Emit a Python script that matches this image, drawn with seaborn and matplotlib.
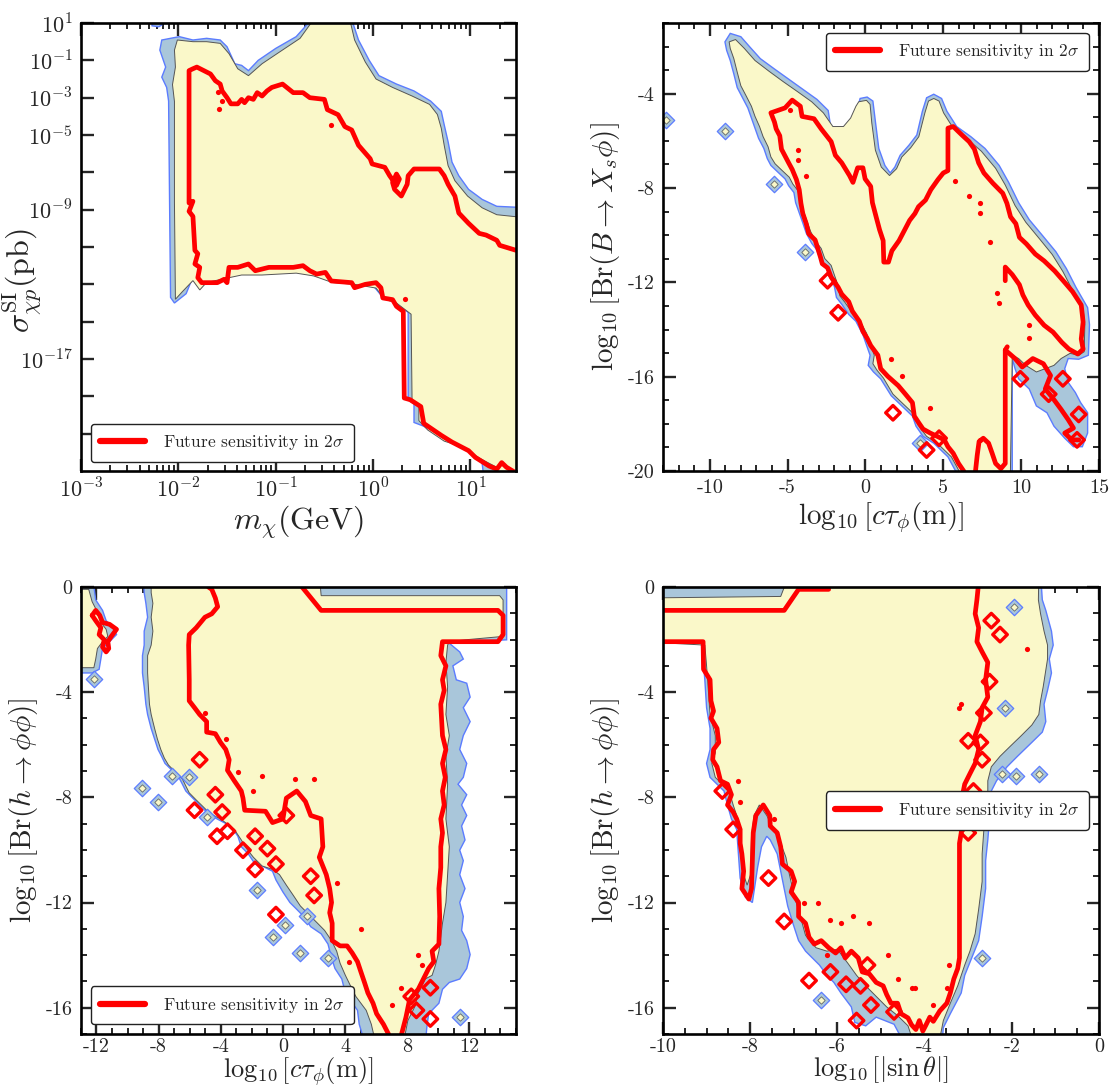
import numpy as np
import matplotlib
matplotlib.use("Agg")
import matplotlib.pyplot as plt
import seaborn as sns
from matplotlib.ticker import FixedLocator, FixedFormatter, MultipleLocator, LogLocator, NullLocator

# ---------------- DATA ----------------
# Panel 1 : log10(m_chi/GeV), log10(sigma/pb)
P1_BLUE = [(-2.19,-0.45),(-2.17,0.09),(-1.99,0.27),(-1.85,0.09),(-1.71,0.18),(-1.57,0.09),(-1.50,-0.27),
           (-1.42,-1.18),(-1.35,-1.27),(-1.28,-1.55),(-1.18,-1.0),(-1.0,-0.36),(-0.79,0.27),(-0.63,1.2),
           (-0.22,1.2),(-0.15,0.09),(-0.04,-1.0),(0.06,-1.82),(0.24,-2.27),(0.42,-2.64),(0.59,-3.18),
           (0.70,-3.73),(0.73,-4.45),(0.77,-5.36),(0.81,-6.45),(0.88,-7.18),(0.98,-7.91),(1.12,-8.45),
           (1.27,-8.82),(1.6,-8.9),(1.6,-23.5),(1.14,-23.5),(1.12,-22.6),(1.05,-22.2),(0.88,-21.5),
           (0.70,-21.2),(0.52,-20.6),(0.42,-20.4),(0.42,-19.4),(0.36,-19.2),(0.36,-14.5),(0.20,-13.9),
           (0.10,-13.7),(-0.01,-13.0),(-0.22,-12.9),(-0.43,-12.8),(-0.65,-12.45),(-0.82,-12.27),
           (-1.14,-12.36),(-1.35,-12.36),(-1.53,-12.55),(-1.71,-12.8),(-1.78,-13.1),(-1.85,-12.6),
           (-1.92,-13.5),(-2.04,-14.0),(-2.08,-13.7),(-2.09,-8.6),(-2.10,-3.18),(-2.12,-2.45),
           (-2.17,-1.9),(-2.13,-1.36)]
P1_YELLOW = [(-2.01,0.09),(-1.85,0.0),(-1.71,0.0),(-1.57,-0.09),(-1.48,-0.64),(-1.39,-1.45),(-1.28,-1.82),
             (-1.14,-1.18),(-0.96,-0.55),(-0.75,0.18),(-0.61,1.2),(-0.24,1.2),(-0.19,0.09),(-0.08,-1.09),
             (0.03,-2.0),(0.20,-2.45),(0.40,-2.91),(0.58,-3.36),(0.66,-3.9),(0.70,-4.64),(0.73,-5.55),
             (0.77,-6.64),(0.84,-7.45),(0.97,-8.27),(1.12,-8.9),(1.27,-9.27),(1.6,-9.45),(1.6,-23.5),
             (1.30,-23.5),(1.27,-22.8),(1.16,-22.5),(1.09,-22.3),(0.91,-21.7),(0.73,-21.4),(0.56,-20.8),
             (0.47,-20.3),(0.47,-19.45),(0.40,-19.2),(0.39,-14.6),(0.24,-14.0),(0.12,-13.8),(0.03,-13.2),
             (-0.19,-13.0),(-0.42,-12.9),(-0.61,-12.55),(-0.79,-12.4),(-1.14,-12.5),(-1.35,-12.5),
             (-1.53,-12.7),(-1.71,-12.9),(-1.78,-13.3),(-1.85,-12.8),(-1.96,-13.4),(-2.03,-13.8),
             (-2.04,-8.6),(-2.04,-3.2),(-2.06,-2.3),(-2.03,-1.36),(-2.04,-0.45)]
P1_BLUE_BLOB = [(-2.27,1.2),(-2.27,0.85),(-2.2,0.8),(-2.17,0.9),(-2.18,1.2)]
P1_RED = [(1.47,-11.18),(1.30,-10.91),(1.27,-10.64),(1.16,-10.36),(1.09,-10.27),(0.98,-9.73),(0.88,-9.18),
          (0.84,-8.27),(0.77,-7.64),(0.73,-7.18),(0.68,-6.82),(0.42,-6.82),(0.36,-7.18),(0.35,-7.64),
          (0.29,-8.27),(0.22,-7.91),(0.20,-7.55),(0.24,-7.09),(0.27,-7.36),(0.24,-7.7),(0.17,-7.18),
          (0.12,-6.73),(-0.01,-6.55),(-0.03,-6.27),(-0.15,-5.55),(-0.22,-4.73),(-0.29,-4.55),(-0.36,-3.91),
          (-0.47,-3.64),(-0.50,-3.09),(-0.65,-3.0),(-0.72,-2.73),(-0.82,-2.73),(-0.93,-2.27),(-1.04,-2.45),
          (-1.09,-2.64),(-1.14,-2.91),(-1.19,-2.73),(-1.23,-3.09),(-1.28,-3.0),(-1.32,-3.27),(-1.35,-3.09),
          (-1.39,-3.33),(-1.46,-3.33),(-1.50,-3.0),(-1.55,-2.64),(-1.57,-2.27),(-1.62,-2.09),(-1.67,-1.73),
          (-1.81,-1.36),(-1.85,-1.45),(-1.89,-1.55),(-1.89,-8.64),(-1.85,-8.55),(-1.89,-9.09),(-1.85,-9.36),
          (-1.83,-11.18),(-1.80,-11.36),(-1.83,-11.91),(-1.78,-12.09),(-1.80,-12.64),(-1.76,-12.91),
          (-1.60,-12.91),(-1.53,-12.73),(-1.50,-12.91),(-1.48,-12.09),(-1.39,-12.09),(-1.28,-11.91),
          (-1.21,-12.27),(-1.07,-12.09),(-0.82,-12.09),(-0.72,-12.0),(-0.65,-12.27),(-0.58,-12.45),
          (-0.49,-12.36),(-0.43,-12.82),(-0.22,-12.91),(-0.19,-13.18),(-0.08,-13.0),(0.03,-12.91),
          (0.08,-13.18),(0.10,-13.73),(0.20,-13.82),(0.24,-14.18),(0.31,-14.45),(0.32,-19.09),
          (0.38,-19.18),(0.49,-19.55),(0.52,-20.45),(0.70,-21.09),(0.81,-21.45),(0.98,-21.91),
          (1.05,-22.27),(1.19,-22.73),(1.27,-22.9),(1.32,-22.55),(1.37,-22.8),(1.45,-23.05)]
P1_RED_DOTS = [(-1.59,-2.67),(-1.55,-3.18),(-1.58,-3.58),(-0.43,-4.49),(0.33,-13.8)]

# Panel 2 : log10(c tau / m), log10 Br(B -> Xs phi)
P2_BLUE = [(-9.02,-1.80),(-8.68,-1.44),(-8.0,-1.58),(-7.43,-2.01),(-6.75,-2.51),(-5.84,-2.95),(-4.93,-3.38),
           (-4.02,-3.81),(-3.11,-4.24),(-2.39,-4.71),(-2.20,-5.53),(-1.41,-5.53),(-0.84,-5.17),(-0.50,-4.60),
           (-0.34,-4.20),(0.11,-4.14),(0.48,-4.31),(0.64,-5.17),(0.86,-6.32),(1.25,-7.04),(1.59,-7.36),
           (1.89,-7.11),(2.23,-6.61),(2.80,-6.18),(3.30,-5.75),(3.66,-4.74),(3.93,-4.17),(4.39,-4.02),
           (4.89,-4.20),(5.23,-4.74),(5.86,-5.39),(6.77,-5.82),(7.68,-6.32),(8.59,-7.04),(9.20,-7.76),
           (9.84,-8.62),(10.52,-9.34),(11.43,-10.06),(12.23,-10.70),(12.91,-11.42),(13.52,-12.21),
           (14.27,-13.07),(14.39,-13.79),(14.32,-15.09),(13.70,-15.26),(13.02,-15.23),(12.80,-15.66),
           (13.02,-16.24),(13.48,-16.67),(13.82,-17.10),(14.27,-17.53),(14.27,-18.39),(13.93,-18.97),
           (13.36,-18.97),(12.80,-18.61),(12.11,-18.10),(11.66,-17.53),(10.98,-17.24),(10.52,-16.52),
           (9.84,-16.09),(9.61,-15.66),(9.43,-15.23),(9.43,-20.5),(6.20,-20.5),(5.30,-19.40),(4.39,-18.82),
           (3.70,-18.53),(3.25,-18.10),(3.02,-17.67),(2.34,-17.24),(1.66,-16.81),(0.98,-16.09),(0.52,-15.80),
           (0.18,-15.52),(0.30,-15.09),(0.07,-14.66),(-0.16,-14.22),(-0.61,-13.65),(-1.07,-13.36),
           (-1.52,-12.93),(-1.86,-12.64),(-1.98,-12.21),(-2.20,-11.78),(-2.43,-11.35),(-2.89,-11.06),
           (-3.11,-10.63),(-3.45,-10.34),(-3.80,-9.91),(-4.02,-9.48),(-4.25,-9.05),(-4.48,-8.62),
           (-4.59,-8.19),(-4.93,-7.90),(-5.16,-7.61),(-5.61,-7.33),(-6.07,-7.04),(-6.30,-6.75),
           (-6.52,-6.32),(-6.86,-5.89),(-7.09,-5.46),(-7.32,-5.03),(-7.55,-4.60),(-7.89,-4.17),
           (-8.23,-3.74),(-8.45,-3.16),(-8.68,-2.59),(-8.91,-2.16)]
P2_YELLOW = [(-8.75,-1.80),(-8.34,-1.70),(-7.77,-2.08),(-7.09,-2.59),(-6.18,-3.05),(-5.27,-3.49),(-4.36,-3.91),
             (-3.45,-4.34),(-2.70,-4.81),(-2.09,-5.39),(-1.41,-5.39),(-0.95,-5.03),(-0.61,-4.53),(-0.43,-4.34),
             (0.07,-4.28),(0.30,-4.45),(0.41,-5.24),(0.64,-6.39),(1.02,-7.11),(1.55,-7.47),(2.0,-7.18),
             (2.34,-6.68),(2.91,-6.29),(3.43,-5.82),(3.82,-4.81),(4.05,-4.31),(4.39,-4.20),(4.73,-4.31),
             (5.02,-4.81),(5.64,-5.46),(6.55,-5.92),(7.45,-6.44),(8.36,-7.16),(8.98,-7.87),(9.61,-8.74),
             (10.30,-9.45),(11.20,-10.17),(12.0,-10.82),(12.68,-11.54),(13.30,-12.33),(13.98,-13.15),
             (14.09,-13.79),(14.05,-14.94),(13.70,-15.09),(13.14,-15.01),(12.57,-15.23),(12.11,-15.52),
             (10.98,-15.80),(10.30,-15.52),(9.84,-15.23),(9.43,-15.09),(9.30,-20.5),(6.43,-20.5),
             (5.52,-19.40),(4.61,-18.82),(3.93,-18.53),(3.36,-18.03),(3.14,-17.60),(2.45,-17.17),
             (1.77,-16.74),(1.16,-16.06),(0.75,-15.73),(0.48,-15.45),(0.57,-15.09),(0.30,-14.58),
             (0.07,-14.15),(-0.34,-13.65),(-0.84,-13.29),(-1.30,-12.86),(-1.64,-12.57),(-1.75,-12.14),
             (-1.98,-11.71),(-2.20,-11.28),(-2.61,-10.99),(-2.84,-10.56),(-3.18,-10.27),(-3.52,-9.84),
             (-3.75,-9.41),(-3.98,-8.98),(-4.20,-8.55),(-4.32,-8.12),(-4.66,-7.83),(-4.89,-7.54),
             (-5.34,-7.26),(-5.80,-6.97),(-6.07,-6.68),(-6.25,-6.25),(-6.57,-5.82),(-6.80,-5.39),
             (-7.09,-4.96),(-7.32,-4.53),(-7.66,-4.09),(-8.0,-3.66),(-8.23,-3.09),(-8.45,-2.51),(-8.68,-2.08)]
P2_RED = [(6.32,-20.01),(5.98,-19.68),(5.64,-19.25),(5.30,-18.97),(5.07,-18.68),(4.61,-18.53),(4.16,-18.39),
          (3.70,-18.22),(3.43,-17.96),(3.14,-17.67),(3.02,-17.10),(2.57,-16.74),(2.11,-16.38),(1.43,-15.98),
          (0.98,-15.66),(0.80,-15.09),(0.34,-14.68),(0.11,-14.37),(-0.16,-14.08),(-0.39,-13.65),
          (-0.84,-13.22),(-1.07,-12.82),(-1.52,-12.50),(-1.75,-12.21),(-2.20,-11.78),(-2.43,-11.38),
          (-2.77,-11.21),(-2.89,-10.92),(-3.23,-10.20),(-3.64,-9.94),(-3.80,-9.51),(-4.02,-9.08),
          (-4.14,-8.65),(-4.25,-8.07),(-4.43,-7.64),(-4.70,-7.21),(-4.93,-6.93),(-5.16,-6.64),
          (-5.39,-6.35),(-5.50,-5.78),(-5.73,-5.49),(-5.84,-5.20),(-6.07,-4.81),(-5.16,-4.60),
          (-4.70,-4.27),(-4.18,-4.53),(-4.07,-4.96),(-3.30,-5.06),(-2.84,-5.49),(-2.20,-6.03),
          (-1.93,-6.61),(-1.52,-6.93),(-1.02,-7.47),(-0.80,-7.76),(-0.50,-7.14),(-0.16,-7.14),
          (-0.02,-7.61),(0.34,-7.93),(0.45,-8.62),(0.68,-9.20),(0.91,-9.77),(1.14,-10.23),(1.18,-11.14),
          (1.48,-11.14),(1.70,-10.66),(2.16,-10.23),(2.50,-9.80),(2.84,-9.37),(3.18,-9.08),(3.41,-8.79),
          (3.86,-8.51),(4.20,-8.07),(4.66,-7.64),(5.0,-7.36),(5.30,-7.26),(5.30,-5.46),(5.64,-5.39),
          (6.20,-5.75),(6.66,-6.03),(7.0,-6.35),(7.27,-6.93),(7.61,-7.36),(8.18,-7.79),(8.82,-8.22),
          (9.09,-8.65),(9.32,-9.22),(9.66,-9.51),(9.89,-10.09),(10.34,-10.37),(10.91,-10.80),
          (11.48,-11.09),(12.16,-11.52),(12.73,-11.95),(13.30,-12.39),(13.86,-12.96),(13.98,-13.68),
          (13.86,-14.40),(13.98,-14.83),(13.64,-15.04),(13.07,-14.83),(12.61,-14.54),(12.05,-14.11),
          (11.48,-13.82),(10.91,-13.39),(10.45,-12.96),(10.11,-12.53),(9.89,-12.10),(9.43,-11.67),
          (8.98,-11.35),(8.98,-11.93)]
P2_RED_B = [(9.11,-14.73),(8.98,-14.87),(8.98,-19.68),(8.70,-19.90),(8.36,-19.68),(8.14,-19.25),
            (7.91,-18.82),(7.57,-18.61),(7.30,-18.75),(7.18,-19.33),(7.07,-20.0)]
P2_RED_D = [(8.98,-14.87),(9.61,-15.23),(10.07,-15.59),(10.75,-15.23),(11.43,-15.45),(11.89,-15.95),
            (11.55,-16.52),(12.0,-16.88),(12.57,-17.39),(13.02,-17.82),(13.36,-18.18),(12.80,-18.39),
            (13.25,-18.68),(13.70,-18.68)]
P2_RED_DIAMONDS = [(-2.43,-11.93),(-1.75,-13.29),(1.77,-17.53),(3.93,-19.11),(4.73,-18.61),(9.95,-16.09),
                   (12.68,-16.09),(13.70,-17.60),(13.59,-18.68),(11.77,-16.74)]
P2_RED_DOTS = [(-4.82,-4.67),(-4.36,-6.39),(-4.30,-6.82),(-3.80,-7.47),(5.75,-7.69),(6.66,-8.33),(7.34,-8.62),
               (7.34,-9.05),(8.02,-10.27),(8.48,-12.43),(8.59,-12.86),(10.52,-14.37),(10.52,-13.79),
               (1.66,-15.23),(2.34,-15.95),(4.16,-17.31),(7.34,-18.68)]
P2_BLUE_ISLANDS = [(-9.02,-5.57),(-12.8,-5.10),(-5.84,-7.83),(-3.89,-10.70),(3.48,-18.82)]

# Panel 3 : log10(c tau / m), log10 Br(h -> phi phi)
P3_BLUE = [(-8.97,0.5),(14.40,0.5),(14.40,-2.01),(11.83,-2.08),(10.71,-2.14),(11.38,-2.47),(11.61,-2.74),
           (10.94,-3.00),(11.16,-3.53),(11.83,-3.66),(12.05,-4.19),(11.61,-4.59),(12.05,-5.12),(11.61,-5.65),
           (11.38,-6.18),(11.83,-6.71),(11.61,-7.24),(11.27,-7.50),(11.83,-7.90),(11.50,-8.29),(11.83,-8.69),
           (11.50,-9.09),(11.72,-9.62),(11.38,-10.01),(11.61,-10.41),(11.38,-10.94),(11.72,-11.47),
           (11.38,-12.00),(11.61,-12.53),(11.50,-13.06),(11.83,-13.45),(12.05,-13.98),(11.83,-14.51),
           (11.38,-14.91),(10.71,-15.04),(10.27,-15.30),(10.04,-15.83),(9.38,-16.23),(9.26,-16.76),
           (9.15,-17.5),(5.36,-17.5),(4.91,-16.63),(4.80,-16.10),(4.02,-15.44),(3.79,-14.91),(3.35,-14.51),
           (3.13,-14.11),(2.90,-13.58),(2.46,-13.19),(1.79,-12.92),(1.34,-12.53),(0.89,-12.26),(0.45,-12.00),
           (0.0,-11.60),(-0.45,-11.14),(-0.67,-10.81),(-1.34,-10.61),(-1.79,-10.54),(-2.23,-10.15),
           (-2.68,-9.88),(-2.90,-9.48),(-3.35,-9.09),(-3.79,-8.96),(-4.24,-8.82),(-4.91,-8.56),(-5.36,-8.29),
           (-5.80,-8.03),(-6.25,-7.76),(-6.47,-7.50),(-6.70,-7.24),(-7.14,-6.97),(-7.59,-6.71),(-7.81,-6.44),
           (-8.04,-6.18),(-8.26,-5.78),(-8.48,-5.38),(-8.71,-4.85),(-8.82,-4.46),(-8.93,-3.80),(-9.04,-3.27),
           (-9.04,-2.61),(-8.93,-2.21),(-8.93,-1.68),(-8.71,-1.15),(-8.82,-0.62),(-8.93,-0.22)]
P3_YELLOW = [(-8.48,0.5),(2.34,0.5),(2.46,-0.33),(13.95,-0.33),(14.17,-0.49),(14.17,-1.88),(11.72,-2.01),
             (10.71,-2.08),(10.60,-2.21),(10.49,-2.87),(10.60,-3.80),(10.49,-4.85),(10.71,-5.65),(10.49,-6.44),
             (10.60,-7.50),(10.49,-8.82),(10.71,-9.88),(10.60,-10.94),(10.49,-12.00),(10.27,-12.79),
             (10.04,-13.85),(9.82,-14.38),(9.60,-14.77),(9.15,-14.91),(8.71,-15.44),(8.48,-15.97),
             (8.04,-16.49),(7.70,-17.5),(6.03,-17.5),(5.69,-16.63),(5.36,-16.10),(4.69,-15.57),(4.35,-15.17),
             (4.02,-14.77),(3.68,-14.31),(3.46,-13.85),(3.13,-13.45),(2.68,-13.06),(2.23,-12.79),(1.79,-12.53),
             (1.12,-12.13),(0.67,-11.73),(0.22,-11.34),(-0.22,-10.94),(-0.67,-10.74),(-1.34,-10.61),
             (-1.90,-10.28),(-2.34,-9.95),(-2.68,-9.62),(-3.13,-9.22),(-3.57,-9.02),(-4.02,-8.82),
             (-4.69,-8.62),(-5.13,-8.36),(-5.58,-8.10),(-6.03,-7.83),(-6.25,-7.57),(-6.47,-7.30),
             (-6.92,-7.04),(-7.37,-6.77),(-7.63,-6.51),(-7.86,-6.18),(-8.08,-5.78),(-8.26,-5.38),
             (-8.48,-4.85),(-8.59,-4.46),(-8.66,-3.80),(-8.71,-3.27),(-8.71,-2.61),(-8.48,-2.21),
             (-8.37,-1.68),(-8.48,-1.15),(-8.37,-0.62),(-8.48,-0.22)]
P3_BLUE_CORNER = [(-13.5,0.5),(-12.28,0.5),(-12.05,-0.49),(-11.61,-0.89),(-11.38,-1.28),(-10.94,-1.55),
                  (-10.71,-1.81),(-11.16,-2.08),(-11.61,-2.34),(-11.72,-2.74),(-11.83,-3.13),(-12.28,-3.27),
                  (-13.5,-3.27)]
P3_YELLOW_CORNER = [(-13.5,-0.09),(-12.5,-0.09),(-12.28,-0.56),(-11.94,-0.95),(-11.72,-1.35),(-11.38,-1.61),
                    (-11.27,-1.88),(-11.61,-2.08),(-11.94,-2.34),(-12.05,-2.74),(-12.17,-3.07),(-13.5,-3.07)]
P3_RED_CORNER = [(-12.28,-1.08),(-12.05,-0.89),(-11.79,-1.08),(-11.61,-1.35),(-11.16,-1.42),(-10.71,-1.61),
                 (-11.05,-1.88),(-11.27,-2.08),(-11.21,-2.34),(-11.38,-2.47),(-11.61,-2.28),(-11.50,-2.01),
                 (-11.83,-1.81),(-11.72,-1.55),(-12.05,-1.28),(-12.28,-1.08)]
P3_RED_LEFT = [(-4.80,0.0),(-4.58,-0.09),(-4.35,-0.42),(-4.20,-0.75),(-4.58,-1.02),(-5.02,-1.15),(-5.58,-1.55),
               (-6.03,-1.81),(-6.07,-2.21),(-6.03,-3.53),(-6.03,-4.33),(-5.69,-4.59),(-5.36,-4.85),(-4.91,-5.12),
               (-4.91,-5.52),(-4.35,-5.58),(-4.02,-5.91),(-3.68,-6.18),(-3.46,-6.57),(-3.57,-6.97),(-3.13,-7.37),
               (-2.68,-7.76),(-2.57,-8.03),(-2.46,-8.49),(-1.12,-8.53),(-0.67,-8.96),(0.0,-8.82),(0.22,-8.03),
               (0.89,-7.76),(1.45,-8.16),(1.79,-8.69),(2.46,-8.82),(2.57,-9.88),(2.34,-10.28),(2.79,-10.94),
               (3.01,-11.47),(3.13,-12.00),(3.01,-12.39),(3.17,-12.79),(3.17,-13.45),(3.68,-13.65),
               (4.13,-13.65),(4.46,-13.92),(4.80,-14.25),(5.02,-14.64),(5.25,-15.04),(5.47,-15.44),
               (5.80,-15.83),(6.03,-16.23),(6.47,-16.63),(6.81,-17.02)]
P3_RED_RIGHT = [(1.23,0.0),(2.46,-0.89),(13.84,-0.89),(14.17,-1.08),(14.17,-1.81),(13.84,-2.08),(10.27,-2.08),
                (10.16,-2.61),(10.49,-3.00),(10.27,-3.53),(10.38,-3.93),(10.16,-4.46),(10.22,-5.12),
                (10.27,-5.65),(10.49,-6.18),(10.27,-6.71),(10.45,-7.24),(10.27,-7.76),(10.38,-8.29),
                (10.16,-8.82),(10.27,-9.35),(10.16,-9.88),(10.16,-10.67),(10.04,-11.47),(10.09,-12.53),
                (10.04,-13.58),(9.60,-13.85),(9.71,-14.25),(9.38,-14.51),(9.04,-14.91),(8.71,-15.30),
                (8.15,-15.70),(7.92,-16.36),(7.63,-17.02)]
P3_RED_DIAMONDS = [(-5.36,-6.57),(-4.35,-7.90),(-3.91,-8.56),(-5.69,-8.49),(-4.24,-9.48),(-3.57,-9.29),
                   (-2.57,-10.01),(-1.79,-10.74),(-0.45,-10.54),(-1.0,-9.95),(1.79,-11.0),(2.01,-11.73),
                   (-0.45,-12.46),(9.49,-15.24),(9.49,-16.43),(8.59,-16.10),(8.26,-15.57),(0.22,-8.69),
                   (-1.79,-9.48)]
P3_RED_DOTS = [(-5.02,-4.81),(-3.68,-5.78),(-2.90,-7.04),(-1.34,-7.17),(0.78,-7.30),(2.01,-7.30),(-1.90,-7.76),
               (3.46,-11.27),(4.24,-14.25),(5.02,-12.99),(7.59,-15.24),(7.03,-15.90),(8.93,-14.38),(8.71,-13.98)]
P3_BLUE_ISLANDS = [(-9.04,-7.63),(-8.04,-8.16),(-7.14,-7.17),(-6.03,-7.24),(-4.91,-8.76),(-1.67,-11.53),
                   (0.11,-12.86),(1.56,-12.53),(-0.67,-13.32),(1.12,-13.92),(2.90,-14.11),(-12.17,-3.51),
                   (11.38,-16.36)]

# Panel 4 : log10|sin theta|, log10 Br(h -> phi phi)
P4_BLUE = [(-10.5,0.5),(-1.34,0.5),(-1.30,-0.49),(-1.22,-0.89),(-1.09,-1.68),(-1.05,-2.21),(-1.14,-2.74),
           (-1.09,-3.27),(-1.18,-3.93),(-1.26,-4.46),(-1.22,-5.12),(-1.30,-5.52),(-1.54,-5.91),(-1.87,-6.44),
           (-2.11,-6.84),(-2.35,-7.37),(-2.47,-7.76),(-2.43,-8.29),(-2.51,-8.82),(-2.55,-9.62),(-2.60,-10.41),
           (-2.60,-11.47),(-2.68,-12.53),(-2.76,-13.45),(-2.92,-14.11),(-3.08,-14.77),(-3.16,-15.44),
           (-3.41,-16.23),(-3.57,-16.76),(-3.61,-17.5),(-4.42,-17.5),(-4.70,-16.63),(-5.11,-16.36),
           (-5.35,-16.69),(-5.60,-16.56),(-5.68,-15.97),(-5.92,-15.44),(-6.08,-15.04),(-6.24,-14.77),
           (-6.41,-14.38),(-6.73,-13.85),(-6.89,-13.45),(-7.02,-12.79),(-7.14,-12.13),(-7.22,-11.47),
           (-7.30,-10.81),(-7.38,-10.15),(-7.54,-9.62),(-7.62,-9.48),(-7.74,-9.88),(-7.83,-10.67),
           (-7.95,-12.00),(-8.11,-11.80),(-8.23,-11.07),(-8.27,-10.15),(-8.31,-9.22),(-8.43,-8.82),
           (-8.52,-8.29),(-8.60,-7.76),(-8.76,-7.50),(-8.92,-7.24),(-9.0,-6.71),(-8.92,-6.18),(-8.92,-5.38),
           (-9.0,-4.59),(-9.04,-3.53),(-9.08,-2.74),(-9.12,-2.14),(-10.5,-2.14)]
P4_YELLOW = [(-10.5,-0.42),(-7.30,-0.36),(-7.10,0.5),(-1.38,0.5),(-1.39,-0.49),(-1.34,-1.02),(-1.26,-1.68),
             (-1.18,-2.21),(-1.18,-2.74),(-1.23,-3.27),(-1.28,-3.80),(-1.34,-4.33),(-1.38,-4.85),(-1.54,-5.25),
             (-1.78,-5.65),(-2.03,-6.05),(-2.27,-6.44),(-2.47,-6.84),(-2.55,-7.37),(-2.55,-8.03),(-2.60,-8.56),
             (-2.64,-9.22),(-2.68,-10.15),(-2.68,-11.20),(-2.76,-12.26),(-2.84,-13.19),(-2.96,-13.85),
             (-3.08,-14.38),(-3.24,-15.17),(-3.41,-15.83),(-3.57,-16.49),(-3.69,-17.5),(-4.22,-17.5),
             (-4.38,-16.69),(-4.62,-16.30),(-4.87,-15.97),(-5.11,-15.57),(-5.35,-15.17),(-5.56,-14.77),
             (-5.76,-14.31),(-6.0,-13.78),(-6.24,-13.85),(-6.49,-13.72),(-6.73,-13.25),(-6.85,-12.53),
             (-6.98,-11.80),(-7.10,-10.94),(-7.18,-10.28),(-7.30,-9.75),(-7.46,-9.22),(-7.62,-8.69),
             (-7.79,-8.29),(-7.91,-8.69),(-7.97,-9.48),(-7.99,-10.94),(-8.07,-11.34),(-8.15,-10.94),
             (-8.19,-10.15),(-8.23,-9.35),(-8.31,-8.69),(-8.39,-8.29),(-8.48,-7.76),(-8.64,-7.50),
             (-8.80,-7.24),(-8.88,-6.71),(-8.80,-6.31),(-8.80,-5.65),(-8.92,-4.85),(-8.96,-3.93),
             (-9.0,-3.00),(-9.04,-2.21),(-10.5,-2.08)]
P4_RED_TOP = [(-10.5,-0.89),(-7.22,-0.89),(-6.89,-0.09),(-6.20,-0.09)]
P4_RED = [(-10.5,-2.08),(-9.08,-2.08),(-9.07,-3.13),(-8.92,-3.53),(-8.90,-4.33),(-8.84,-4.72),(-8.90,-4.99),
          (-8.76,-5.38),(-8.72,-5.91),(-8.84,-6.18),(-8.86,-6.57),(-8.76,-6.84),(-8.68,-7.37),(-8.52,-7.50),
          (-8.43,-7.90),(-8.52,-8.29),(-8.39,-8.56),(-8.31,-8.82),(-8.23,-9.22),(-8.23,-9.75),(-8.19,-10.15),
          (-8.15,-10.81),(-8.19,-11.47),(-8.03,-11.87),(-7.97,-11.47),(-7.95,-10.41),(-7.93,-9.35),
          (-7.87,-8.69),(-7.70,-8.29),(-7.55,-8.69),(-7.54,-9.09),(-7.38,-9.35),(-7.30,-9.88),(-7.26,-10.54),
          (-7.06,-10.81),(-6.98,-11.20),(-7.06,-11.60),(-6.89,-12.00),(-6.89,-12.53),(-6.73,-12.79),
          (-6.65,-13.32),(-6.53,-13.58),(-6.37,-13.45),(-6.20,-13.72),(-6.04,-13.92),(-5.92,-13.72),
          (-5.82,-14.11),(-5.68,-13.85),(-5.52,-14.11),(-5.43,-14.64),(-5.27,-14.71),(-5.11,-15.04),
          (-4.95,-15.17),(-4.87,-15.50),(-4.77,-15.83),(-4.62,-15.83),(-4.54,-16.23),(-4.38,-16.39),
          (-4.30,-16.65),(-4.20,-16.83),(-4.12,-16.49),(-4.04,-16.89),(-3.96,-16.63),(-3.88,-16.36),
          (-3.80,-16.52),(-3.65,-16.12),(-3.49,-15.83),(-3.41,-15.44),(-3.33,-14.91),(-3.24,-14.51),
          (-3.20,-14.11),(-3.20,-9.75),(-3.16,-9.35),(-3.12,-8.69),(-3.16,-8.16),(-3.08,-7.50),(-2.96,-7.10),
          (-2.84,-6.71),(-2.76,-6.18),(-2.84,-5.65),(-2.72,-5.12),(-2.68,-4.59),(-2.55,-4.19),(-2.60,-3.53),
          (-2.55,-2.87),(-2.68,-2.47),(-2.80,-2.08),(-2.76,-1.55),(-2.84,-1.02),(-2.80,-0.49),(-2.77,0.0)]
P4_RED_DIAMONDS = [(-2.47,-1.28),(-2.27,-1.81),(-2.51,-3.60),(-2.64,-4.79),(-3.0,-5.85),(-2.72,-5.91),
                   (-2.68,-6.57),(-2.88,-7.76),(-3.0,-9.35),(-8.64,-7.76),(-8.39,-9.22),(-7.58,-11.07),
                   (-7.22,-12.72),(-6.65,-14.97),(-6.16,-14.64),(-5.80,-15.11),(-5.47,-15.17),(-5.23,-15.90),
                   (-5.56,-16.49),(-4.70,-16.16),(-5.31,-14.38)]
P4_RED_DOTS = [(-1.66,-2.34),(-3.20,-4.59),(-8.27,-7.37),(-8.23,-8.16),(-6.77,-12.0),(-6.45,-12.0),(-6.16,-12.66),
               (-5.92,-12.79),(-5.64,-12.53),(-5.27,-12.79),(-4.83,-13.98),(-4.62,-14.91),(-4.22,-15.24),
               (-3.81,-15.90),(-3.45,-14.38),(-3.49,-15.24),(-4.30,-15.24),(-6.24,-13.98),(-7.46,-8.82),
               (-3.16,-4.46)]
P4_BLUE_ISLANDS = [(-1.91,-7.17),(-2.23,-7.10),(-1.38,-7.10),(-2.68,-14.11),(-6.37,-15.70),(-1.95,-0.75),
                   (-2.15,-4.59)]

LEGEND_TEXT = r"Future sensitivity in $2\sigma$"

# ---------------- STYLE ----------------
sns.set_style("ticks")
plt.rcParams.update({
    "font.family": ["cmr10", "DejaVu Serif"],
    "mathtext.fontset": "cm",
    "axes.unicode_minus": False,
    "axes.linewidth": 1.9,
    "axes.edgecolor": "black",
})
BLUE_FACE = "#a9c6da"
BLUE_EDGE = "#5b7cff"
YEL_FACE = "#faf8c9"
YEL_EDGE = "#555555"
RED = "#ff0000"

fig = plt.figure(figsize=(11.12, 10.86), dpi=100)
axes = [fig.add_axes([0.0728, 0.5663, 0.3912, 0.4125]),
        fig.add_axes([0.5962, 0.5663, 0.3921, 0.4125]),
        fig.add_axes([0.0728, 0.0479, 0.3912, 0.4116]),
        fig.add_axes([0.5962, 0.0479, 0.3921, 0.4116])]


def xy(pts, log=False):
    a = np.array(pts, dtype=float)
    x, y = a[:, 0], a[:, 1]
    if log:
        return 10.0 ** x, 10.0 ** y
    return x, y


def region(ax, outer, inner, log=False):
    x, y = xy(outer, log)
    ax.fill(x, y, facecolor=BLUE_FACE, edgecolor=BLUE_EDGE, linewidth=1.0, zorder=1)
    x, y = xy(inner, log)
    ax.fill(x, y, facecolor=YEL_FACE, edgecolor=YEL_EDGE, linewidth=0.7, zorder=2)


def red_line(ax, pts, log=False, label=None):
    x, y = xy(pts, log)
    sns.lineplot(x=x, y=y, sort=False, estimator=None, color=RED, linewidth=3.4,
                 ax=ax, label=label, legend=False, zorder=5)


def red_marks(ax, diamonds, dots, log=False):
    if diamonds:
        x, y = xy(diamonds, log)
        ax.scatter(x, y, marker="D", s=55, facecolors="none", edgecolors=RED, linewidths=2.4, zorder=5)
    if dots:
        x, y = xy(dots, log)
        sns.scatterplot(x=x, y=y, color=RED, s=14, linewidth=0, ax=ax, zorder=5)


def islands(ax, pts, log=False):
    x, y = xy(pts, log)
    ax.scatter(x, y, marker="D", s=70, facecolors=BLUE_FACE, edgecolors=BLUE_EDGE, linewidths=0.9, zorder=3)
    ax.scatter(x, y, marker="D", s=14, facecolors=YEL_FACE, edgecolors=YEL_EDGE, linewidths=0.5, zorder=3)


def legend(ax, **kw):
    h = [plt.Line2D([0], [0], color=RED, lw=4.5)]
    lg = ax.legend(h, [LEGEND_TEXT], fontsize=12.5, handlelength=2.6, handletextpad=1.0,
                   borderpad=0.55, fancybox=True, framealpha=1, edgecolor="#222222", **kw)
    lg.get_frame().set_linewidth(1.0)
    lg.set_zorder(10)


def style_ticks(ax):
    ax.tick_params(which="both", direction="in", top=True, right=True, labelsize=14.5, pad=6)
    ax.tick_params(which="major", length=9, width=1.7)
    ax.tick_params(which="minor", length=4.5, width=1.4)


LABEL_FS = 21

# ---- Panel 1
ax = axes[0]
region(ax, P1_BLUE, P1_YELLOW, log=True)
x, y = xy(P1_BLUE_BLOB, True)
ax.fill(x, y, facecolor=BLUE_FACE, edgecolor=BLUE_EDGE, linewidth=1.0, zorder=1)
red_line(ax, P1_RED, log=True)
red_marks(ax, None, P1_RED_DOTS, log=True)
ax.set_xscale("log")
ax.set_yscale("log")
ax.set_xlim(1e-3, 10 ** 1.467)
ax.set_ylim(1e-23, 1e1)
ax.xaxis.set_major_locator(FixedLocator([1e-3, 1e-2, 1e-1, 1e0, 1e1]))
ax.xaxis.set_major_formatter(FixedFormatter([r"$10^{-3}$", r"$10^{-2}$", r"$10^{-1}$", r"$10^{0}$", r"$10^{1}$"]))
ax.xaxis.set_minor_locator(LogLocator(base=10, subs=np.arange(2, 10)))
yexp = list(range(1, -23, -2))
shown = {1: r"$10^{1}$", -1: r"$10^{-1}$", -3: r"$10^{-3}$", -5: r"$10^{-5}$", -9: r"$10^{-9}$", -17: r"$10^{-17}$"}
ax.yaxis.set_major_locator(FixedLocator([10.0 ** e for e in yexp]))
ax.yaxis.set_major_formatter(FixedFormatter([shown.get(e, "") for e in yexp]))
ax.yaxis.set_minor_locator(NullLocator())
style_ticks(ax)
ax.tick_params(axis="both", labelsize=16)
ax.tick_params(axis="x", pad=5)
ax.set_xlabel(r"$m_\chi(\mathrm{GeV})$", fontsize=23, labelpad=1)
ax.set_ylabel(r"$\sigma^{\mathrm{SI}}_{\chi p}(\mathrm{pb})$", fontsize=23)
ax.yaxis.set_label_coords(-0.085, 0.425)
legend(ax, loc="lower left", bbox_to_anchor=(0.022, 0.02), borderaxespad=0)

# ---- Panel 2
ax = axes[1]
region(ax, P2_BLUE, P2_YELLOW)
islands(ax, P2_BLUE_ISLANDS)
red_line(ax, P2_RED)
red_line(ax, P2_RED_B)
red_line(ax, P2_RED_D)
red_marks(ax, P2_RED_DIAMONDS, P2_RED_DOTS)
ax.set_xlim(-13, 15)
ax.set_ylim(-20, -1)
ax.xaxis.set_major_locator(FixedLocator([-10, -5, 0, 5, 10, 15]))
ax.xaxis.set_major_formatter(FixedFormatter(["-10", "-5", "0", "5", "10", "15"]))
ax.xaxis.set_minor_locator(MultipleLocator(1))
ax.yaxis.set_major_locator(FixedLocator([-4, -8, -12, -16, -20]))
ax.yaxis.set_major_formatter(FixedFormatter(["-4", "-8", "-12", "-16", "-20"]))
ax.yaxis.set_minor_locator(MultipleLocator(1))
style_ticks(ax)
ax.set_xlabel(r"$\log_{10}[c\tau_\phi(\mathrm{m})]$", fontsize=LABEL_FS, labelpad=2)
ax.set_ylabel(r"$\log_{10}[\mathrm{Br}(B\rightarrow X_s\phi)]$", fontsize=LABEL_FS, labelpad=4)
legend(ax, loc="upper right", bbox_to_anchor=(0.976, 0.978), borderaxespad=0)

# ---- Panel 3
ax = axes[2]
region(ax, P3_BLUE, P3_YELLOW)
region(ax, P3_BLUE_CORNER, P3_YELLOW_CORNER)
islands(ax, P3_BLUE_ISLANDS)
red_line(ax, P3_RED_LEFT)
red_line(ax, P3_RED_RIGHT)
red_line(ax, P3_RED_CORNER)
red_marks(ax, P3_RED_DIAMONDS, P3_RED_DOTS)
ax.set_xlim(-13, 15)
ax.set_ylim(-17, 0)
ax.xaxis.set_major_locator(FixedLocator([-12, -8, -4, 0, 4, 8, 12]))
ax.xaxis.set_major_formatter(FixedFormatter(["-12", "-8", "-4", "0", "4", "8", "12"]))
ax.xaxis.set_minor_locator(MultipleLocator(1))
ax.yaxis.set_major_locator(FixedLocator([0, -4, -8, -12, -16]))
ax.yaxis.set_major_formatter(FixedFormatter(["0", "-4", "-8", "-12", "-16"]))
ax.yaxis.set_minor_locator(MultipleLocator(1))
style_ticks(ax)
ax.tick_params(axis="x", pad=3)
ax.set_xlabel(r"$\log_{10}[c\tau_\phi(\mathrm{m})]$", fontsize=19, labelpad=-1)
ax.set_ylabel(r"$\log_{10}[\mathrm{Br}(h\rightarrow \phi\phi)]$", fontsize=LABEL_FS, labelpad=4)
legend(ax, loc="lower left", bbox_to_anchor=(0.022, 0.022), borderaxespad=0)

# ---- Panel 4
ax = axes[3]
region(ax, P4_BLUE, P4_YELLOW)
islands(ax, P4_BLUE_ISLANDS)
red_line(ax, P4_RED_TOP)
red_line(ax, P4_RED)
red_marks(ax, P4_RED_DIAMONDS, P4_RED_DOTS)
ax.set_xlim(-10, 0)
ax.set_ylim(-17, 0)
ax.xaxis.set_major_locator(FixedLocator([-10, -8, -6, -4, -2, 0]))
ax.xaxis.set_major_formatter(FixedFormatter(["-10", "-8", "-6", "-4", "-2", "0"]))
ax.xaxis.set_minor_locator(MultipleLocator(0.5))
ax.yaxis.set_major_locator(FixedLocator([0, -4, -8, -12, -16]))
ax.yaxis.set_major_formatter(FixedFormatter(["0", "-4", "-8", "-12", "-16"]))
ax.yaxis.set_minor_locator(MultipleLocator(1))
style_ticks(ax)
ax.tick_params(axis="x", pad=3)
ax.set_xlabel(r"$\log_{10}[|\sin\theta|]$", fontsize=19, labelpad=-1)
ax.set_ylabel(r"$\log_{10}[\mathrm{Br}(h\rightarrow \phi\phi)]$", fontsize=LABEL_FS, labelpad=4)
legend(ax, loc="center right", bbox_to_anchor=(0.976, 0.5), borderaxespad=0)

for a in axes:
    for s in a.spines.values():
        s.set_zorder(20)
        s.set_linewidth(1.9)

fig.savefig("out.png", dpi=100)
